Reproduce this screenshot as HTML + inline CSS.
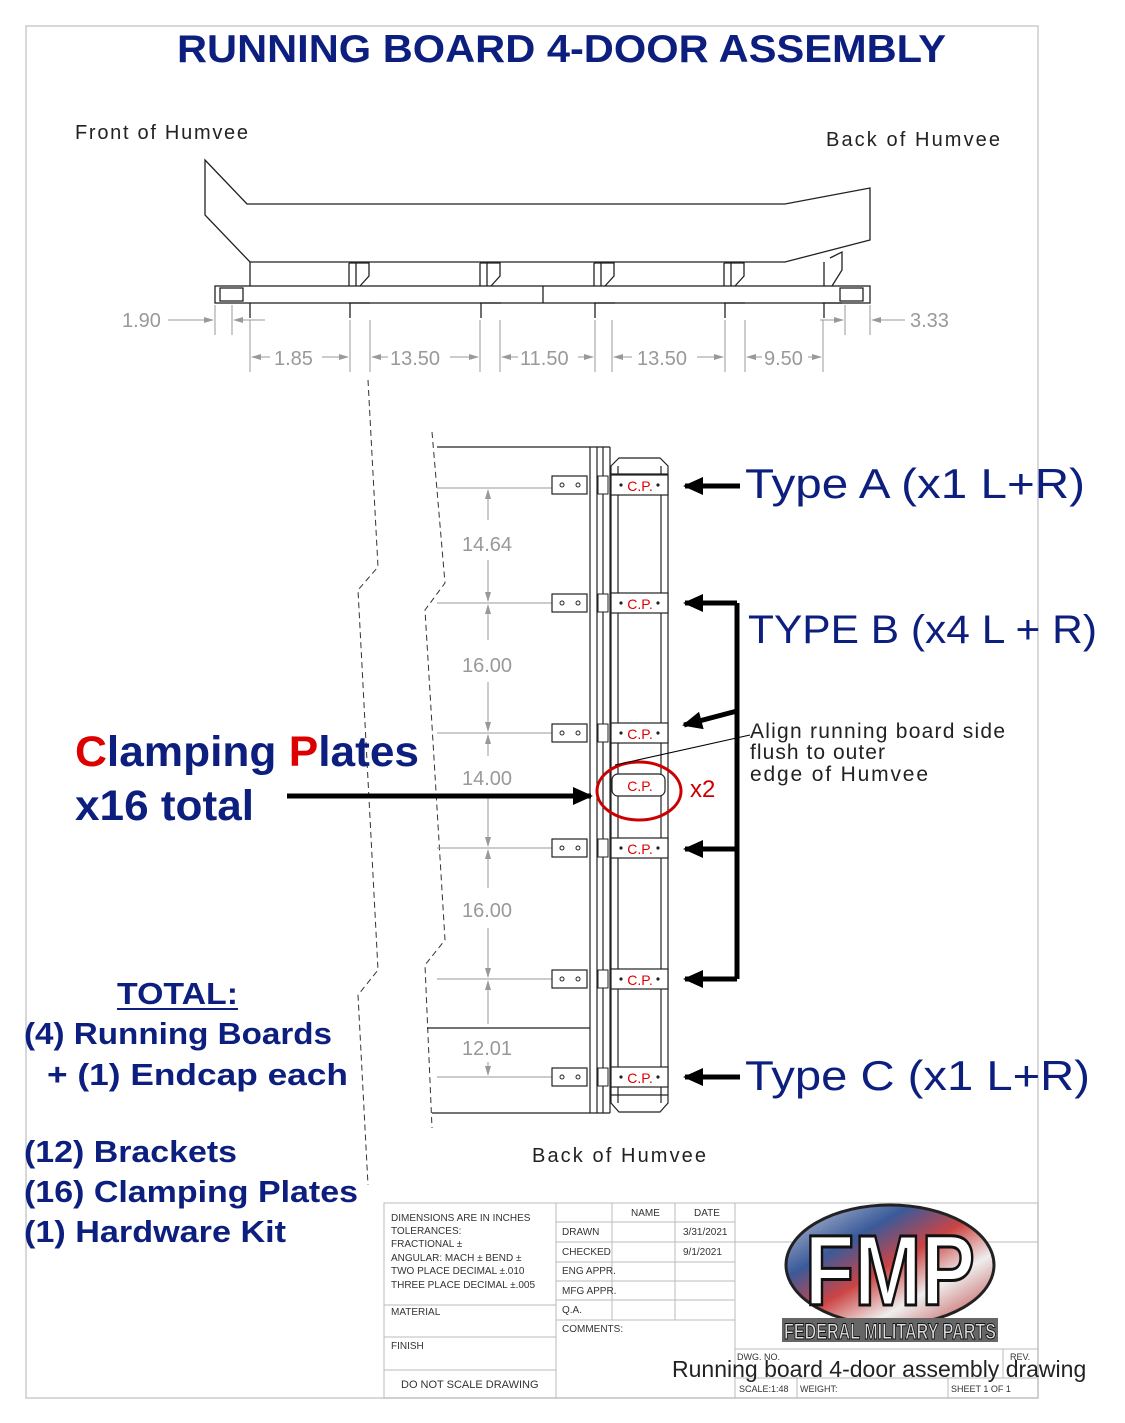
<!DOCTYPE html>
<html><head><meta charset="utf-8"><style>
html,body{margin:0;padding:0;background:#fff;}
svg{display:block;}
text{font-family:"Liberation Sans",sans-serif;}
</style></head><body>
<svg width="1125" height="1423" viewBox="0 0 1125 1423" xmlns="http://www.w3.org/2000/svg">
<defs>
<marker id="ah" markerWidth="20" markerHeight="18" refX="18" refY="9" orient="auto" markerUnits="userSpaceOnUse"><path d="M0,0L20,9L0,18z" fill="#000"/></marker>
<marker id="ga" markerWidth="10" markerHeight="8" refX="9" refY="4" orient="auto" markerUnits="userSpaceOnUse"><path d="M0,1L10,4L0,7z" fill="#999"/></marker>
<linearGradient id="flag" x1="0" y1="0" x2="1" y2="1">
<stop offset="0" stop-color="#c9ced9"/><stop offset="0.3" stop-color="#3a5a9a"/><stop offset="0.5" stop-color="#c44"/><stop offset="0.7" stop-color="#eee"/><stop offset="1" stop-color="#b33"/></linearGradient>
</defs>
<rect x="26" y="26" width="1012" height="1372" fill="none" stroke="#ccc" stroke-width="1.5"/>
<text x="177" y="62" font-size="39" font-weight="bold" fill="#0d1f7e" textLength="769" lengthAdjust="spacingAndGlyphs">RUNNING BOARD 4-DOOR ASSEMBLY</text>
<text x="75" y="139" font-size="20" fill="#222" textLength="173">Front of Humvee</text>
<text x="826" y="146" font-size="20" fill="#222" textLength="174">Back of Humvee</text>
<!-- top view -->
<g fill="none" stroke="#222" stroke-width="1.3">
<path d="M205,160 L247,204 L785,204 L870,188 L870,240 L785,262 L250,262 L205,215 Z"/>
<rect x="215" y="286" width="655" height="17"/>
<line x1="543" y1="286" x2="543" y2="303"/>
<rect x="220" y="288" width="23" height="13"/><rect x="840" y="288" width="23" height="13"/>
<line x1="250" y1="262" x2="250" y2="286"/>
<line x1="250" y1="303" x2="250" y2="318"/>
<g id="b">
<path d="M349,263 L349,286 M356,263 L356,286 M349,263 L369,263 L369,276 L360,286"/>
<path d="M350,303 L350,318 M349,303 L370,303"/>
</g>
<use href="#b" x="131"/><use href="#b" x="245"/><use href="#b" x="375"/>
<path d="M824,262 L824,286 M830,258 L842,252 L842,270 L832,286"/>
<path d="M824,303 L824,318 M822,303 L842,303"/>
</g>
<g stroke="#999" stroke-width="1" fill="none">
<line x1="215" y1="305" x2="215" y2="335"/><line x1="232" y1="305" x2="232" y2="335"/>
<line x1="168" y1="320" x2="213" y2="320" marker-end="url(#ga)"/><line x1="265" y1="320" x2="234" y2="320" marker-end="url(#ga)"/>
<line x1="845" y1="305" x2="845" y2="335"/><line x1="870" y1="305" x2="870" y2="335"/>
<line x1="820" y1="320" x2="843" y2="320" marker-end="url(#ga)"/><line x1="905" y1="320" x2="872" y2="320" marker-end="url(#ga)"/>
<path d="M250,320V372 M350,320V372 M370,320V372 M480,320V372 M500,320V372 M595,320V372 M612,320V372 M725,320V372 M745,320V372 M823,320V372"/>
<line x1="270" y1="357" x2="252" y2="357" marker-end="url(#ga)"/><line x1="322" y1="357" x2="348" y2="357" marker-end="url(#ga)"/>
<line x1="388" y1="357" x2="372" y2="357" marker-end="url(#ga)"/><line x1="450" y1="357" x2="478" y2="357" marker-end="url(#ga)"/>
<line x1="518" y1="357" x2="502" y2="357" marker-end="url(#ga)"/><line x1="578" y1="357" x2="593" y2="357" marker-end="url(#ga)"/>
<line x1="632" y1="357" x2="614" y2="357" marker-end="url(#ga)"/><line x1="697" y1="357" x2="723" y2="357" marker-end="url(#ga)"/>
<line x1="762" y1="357" x2="747" y2="357" marker-end="url(#ga)"/><line x1="808" y1="357" x2="821" y2="357" marker-end="url(#ga)"/>
</g>
<g font-size="20" fill="#999">
<text x="122" y="327">1.90</text><text x="910" y="327">3.33</text>
<text x="274" y="365">1.85</text><text x="390" y="365">13.50</text><text x="520" y="365">11.50</text><text x="637" y="365">13.50</text><text x="764" y="365">9.50</text>
</g>
<!-- dashed -->
<g fill="none" stroke="#333" stroke-width="1" stroke-dasharray="6,4">
<path d="M368,380 L378,567 L358,590 L378,970 L358,995 L368,1185"/>
<path d="M432,432 L445,583 L425,610 L445,940 L425,965 L432,1128"/>
</g>
<!-- lower view -->
<g fill="none" stroke="#222" stroke-width="1.2">
<line x1="437" y1="447" x2="610" y2="447"/><line x1="432" y1="1113" x2="610" y2="1113"/>
<line x1="427" y1="1028" x2="590" y2="1028"/>
<path d="M590,447V1113 M597,447V1113 M603,447V1113 M610,447V1113"/>
<path d="M611,466 L619,458 L660,458 L668,466 L668,1103 L660,1112 L619,1112 L611,1103 Z"/>
<path d="M618,466V1103 M661,466V1103 M611,474H668 M611,1095H668"/>
</g>
<g stroke="#999" stroke-width="1" fill="none">
<path d="M437,488H552 M437,603H552 M437,733H552 M437,848H552 M437,979H552 M437,1077H552"/>
<line x1="488" y1="520" x2="488" y2="490" marker-end="url(#ga)"/><line x1="488" y1="560" x2="488" y2="601" marker-end="url(#ga)"/>
<line x1="488" y1="640" x2="488" y2="605" marker-end="url(#ga)"/><line x1="488" y1="682" x2="488" y2="731" marker-end="url(#ga)"/>
<line x1="488" y1="756" x2="488" y2="735" marker-end="url(#ga)"/><line x1="488" y1="795" x2="488" y2="846" marker-end="url(#ga)"/>
<line x1="488" y1="888" x2="488" y2="850" marker-end="url(#ga)"/><line x1="488" y1="928" x2="488" y2="977" marker-end="url(#ga)"/>
<line x1="488" y1="1024" x2="488" y2="981" marker-end="url(#ga)"/><line x1="488" y1="1062" x2="488" y2="1075" marker-end="url(#ga)"/>
</g>
<g font-size="20" fill="#999">
<text x="462" y="551">14.64</text><text x="462" y="672">16.00</text><text x="462" y="785">14.00</text><text x="462" y="917">16.00</text><text x="462" y="1055">12.01</text>
</g>
<g id="cp">
<rect x="552" y="594" width="35" height="18" fill="#fff" stroke="#222" stroke-width="1.2"/>
<circle cx="562" cy="603" r="2" fill="none" stroke="#222"/><circle cx="578" cy="603" r="2" fill="none" stroke="#222"/>
<rect x="598" y="594" width="10" height="18" fill="#fff" stroke="#222"/>
<rect x="611" y="593" width="57" height="20" fill="#fff" stroke="#222" stroke-width="1.2"/>
<text x="640" y="609" text-anchor="middle" font-size="14" fill="#d00">C.P.</text>
<circle cx="621" cy="603" r="1.6" fill="#222"/><circle cx="658" cy="603" r="1.6" fill="#222"/>
</g>
<use href="#cp" y="-118"/><use href="#cp" y="130"/><use href="#cp" y="245"/><use href="#cp" y="376"/><use href="#cp" y="474"/>
<rect x="612" y="774" width="53" height="22" rx="6" fill="#fff" stroke="#222" stroke-width="1.2"/>
<text x="640" y="791" text-anchor="middle" font-size="14" fill="#d00">C.P.</text>
<ellipse cx="639" cy="791" rx="42" ry="29" fill="none" stroke="#c00" stroke-width="3"/>
<text x="690" y="797" font-size="24" fill="#c00">x2</text>
<!-- arrows -->
<g stroke="#000" stroke-width="5" fill="none">
<line x1="740" y1="486" x2="685" y2="486" marker-end="url(#ah)"/>
<path d="M737,603 V979"/>
<line x1="737" y1="603" x2="685" y2="603" marker-end="url(#ah)"/>
<line x1="737" y1="711" x2="684" y2="725" marker-end="url(#ah)"/>
<line x1="737" y1="849" x2="685" y2="849" marker-end="url(#ah)"/>
<line x1="737" y1="979" x2="685" y2="979" marker-end="url(#ah)"/>
<line x1="740" y1="1077" x2="685" y2="1077" marker-end="url(#ah)"/>
<line x1="287" y1="796" x2="591" y2="796" marker-end="url(#ah)"/>
</g>
<line x1="750" y1="735" x2="615" y2="765" stroke="#000" stroke-width="1"/>
<text x="745" y="498" font-size="42" fill="#0d1f7e" textLength="340" lengthAdjust="spacingAndGlyphs">Type A (x1 L+R)</text>
<text x="748" y="643" font-size="40" fill="#0d1f7e" textLength="349" lengthAdjust="spacingAndGlyphs">TYPE B (x4 L + R)</text>
<text x="745" y="1090" font-size="42" fill="#0d1f7e" textLength="345" lengthAdjust="spacingAndGlyphs">Type C (x1 L+R)</text>
<g font-size="21" fill="#222"><text x="750" y="738" textLength="255">Align running board side</text><text x="750" y="759" textLength="135">flush to outer</text><text x="750" y="781" textLength="178">edge of Humvee</text></g>
<text x="75" y="766" font-size="43" font-weight="bold" fill="#0d1f7e" textLength="344" lengthAdjust="spacingAndGlyphs"><tspan fill="#d00">C</tspan>lamping <tspan fill="#d00">P</tspan>lates</text>
<text x="75" y="820" font-size="43" font-weight="bold" fill="#0d1f7e" textLength="179" lengthAdjust="spacingAndGlyphs">x16 total</text>
<g font-size="31" font-weight="bold" fill="#0d1f7e">
<text x="117" y="1004" textLength="121" lengthAdjust="spacingAndGlyphs">TOTAL:</text>
<text x="24" y="1044" textLength="308" lengthAdjust="spacingAndGlyphs">(4) Running Boards</text>
<text x="47" y="1085" textLength="301" lengthAdjust="spacingAndGlyphs">+  (1) Endcap each</text>
<text x="24" y="1162" textLength="213" lengthAdjust="spacingAndGlyphs">(12) Brackets</text>
<text x="24" y="1202" textLength="334" lengthAdjust="spacingAndGlyphs">(16) Clamping Plates</text>
<text x="24" y="1242" textLength="262" lengthAdjust="spacingAndGlyphs">(1) Hardware Kit</text>
</g>
<line x1="117" y1="1009" x2="238" y2="1009" stroke="#0d1f7e" stroke-width="2"/>
<text x="532" y="1162" font-size="20" fill="#222" textLength="174">Back of Humvee</text>
<!-- title block -->
<g stroke="#bbb" stroke-width="1" fill="none">
<rect x="384" y="1203" width="654" height="195"/>
<path d="M556,1203V1398 M612,1203V1320 M675,1203V1320 M735,1203V1398"/>
<path d="M384,1305H556 M384,1337H556 M384,1370H556"/>
<path d="M556,1222H735 M556,1242H735 M556,1262H735 M556,1281H735 M556,1300H735 M556,1320H735"/>
<path d="M735,1242H1038 M735,1349H1038 M735,1378H1038 M797,1378V1398 M948,1378V1398 M1003,1349V1378"/>
</g>
<g font-size="10" fill="#333">
<text x="391" y="1221">DIMENSIONS ARE IN INCHES</text><text x="391" y="1234">TOLERANCES:</text>
<text x="391" y="1247">FRACTIONAL ±</text><text x="391" y="1261">ANGULAR: MACH ±    BEND ±</text>
<text x="391" y="1274">TWO PLACE DECIMAL    ±.010</text><text x="391" y="1288">THREE PLACE DECIMAL  ±.005</text>
<text x="391" y="1315">MATERIAL</text><text x="391" y="1349">FINISH</text>
<text x="401" y="1388" font-size="11">DO NOT SCALE DRAWING</text>
<text x="631" y="1216">NAME</text><text x="694" y="1216">DATE</text>
<text x="562" y="1235">DRAWN</text><text x="683" y="1235">3/31/2021</text>
<text x="562" y="1255">CHECKED</text><text x="683" y="1255">9/1/2021</text>
<text x="562" y="1274">ENG APPR.</text><text x="562" y="1294">MFG APPR.</text>
<text x="562" y="1313">Q.A.</text><text x="562" y="1332">COMMENTS:</text>
<text x="737" y="1360" font-size="9">DWG. NO.</text><text x="1010" y="1360" font-size="9">REV.</text>
<text x="739" y="1392" font-size="9">SCALE:1:48</text><text x="800" y="1392" font-size="9">WEIGHT:</text><text x="951" y="1392" font-size="9">SHEET 1 OF 1</text>
</g>
<ellipse cx="890" cy="1265" rx="104" ry="60" fill="url(#flag)" stroke="#222" stroke-width="3"/>
<text x="890" y="1305" text-anchor="middle" font-size="100" font-weight="bold" fill="#fff" stroke="#111" stroke-width="3" textLength="170" lengthAdjust="spacingAndGlyphs">FMP</text>
<rect x="782" y="1318" width="216" height="24" fill="#666"/>
<text x="890" y="1339" text-anchor="middle" font-size="22" font-weight="bold" fill="#ddd" stroke="#111" stroke-width="1" textLength="212" lengthAdjust="spacingAndGlyphs">FEDERAL MILITARY PARTS</text>
<svg x="0" y="0" width="1085" height="1423"><text x="672" y="1377" font-size="23" fill="#222">Running board 4-door assembly drawing</text></svg>
</svg>
</body></html>
